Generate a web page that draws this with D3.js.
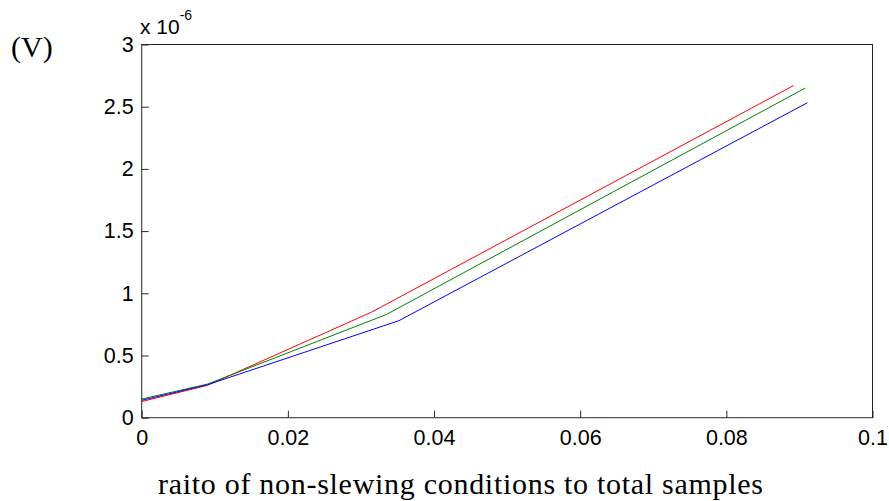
<!DOCTYPE html>
<html>
<head>
<meta charset="utf-8">
<script src="https://cdn.jsdelivr.net/npm/d3@7"></script>
<style>
  body { margin: 0; background: #fff; }
  svg { display: block; }
</style>
</head>
<body>
<svg id="chart" width="889" height="501"></svg>
<script>
// ---- data ----
const xTicks = [0, 0.02, 0.04, 0.06, 0.08, 0.1];
const xTickLabels = ["0", "0.02", "0.04", "0.06", "0.08", "0.1"];
const yTicks = [0, 0.5, 1, 1.5, 2, 2.5, 3];
const yTickLabels = ["0", "0.5", "1", "1.5", "2", "2.5", "3"];
const redX = [0, 0.009, 0.0315, 0.0892];
const redY = [0.13, 0.26, 0.85, 2.67];
const greenX = [0, 0.009, 0.0335, 0.0908];
const greenY = [0.15, 0.27, 0.83, 2.65];
const blueX = [0, 0.009, 0.0352, 0.0911];
const blueY = [0.14, 0.265, 0.78, 2.532];
const seriesNames = ["red", "green", "blue"];
const xLabel = "raito of non-slewing conditions to total samples";
const yUnit = "(V)";
const yExponent = "-6";

// ---- layout ----
const svg = d3.select("#chart");
const mLeft = 141.7, mRight = 872.5, mTop = 44.5, mBottom = 417.7;
const x = d3.scaleLinear().domain([0, 0.1]).range([mLeft, mRight]);
const y = d3.scaleLinear().domain([0, 3]).range([mBottom, mTop]);

const series = [
  { name: seriesNames[0], xs: redX, ys: redY, color: "#ff0000" },
  { name: seriesNames[1], xs: greenX, ys: greenY, color: "#008000" },
  { name: seriesNames[2], xs: blueX, ys: blueY, color: "#0000ff" }
];

// frame
svg.append("rect")
  .attr("x", mLeft).attr("y", mTop)
  .attr("width", mRight - mLeft).attr("height", mBottom - mTop)
  .attr("fill", "#fff").attr("stroke", "#262626").attr("stroke-width", 1);

const tickFont = "'Liberation Sans', Arial, sans-serif";

const xAxis = d3.axisBottom(x).tickValues(xTicks)
  .tickFormat((d, i) => xTickLabels[i]).tickSizeInner(-7).tickSizeOuter(0).tickPadding(12);
const gx = svg.append("g").attr("transform", `translate(0,${mBottom})`).call(xAxis);
gx.select(".domain").remove();
gx.selectAll("line").attr("stroke", "#262626");
gx.selectAll("text").attr("font-family", tickFont).attr("font-size", 21.5).attr("fill", "#000");

const yAxis = d3.axisLeft(y).tickValues(yTicks)
  .tickFormat((d, i) => yTickLabels[i]).tickSizeInner(-7).tickSizeOuter(0).tickPadding(8);
const gy = svg.append("g").attr("transform", `translate(${mLeft},0)`).call(yAxis);
gy.select(".domain").remove();
gy.selectAll("line").attr("stroke", "#262626");
gy.selectAll("text").attr("font-family", tickFont).attr("font-size", 21.5).attr("fill", "#000");

// lines
const line = d3.line().x(d => x(d[0])).y(d => y(d[1]));
series.forEach(s => {
  const pts = s.xs.map((v, i) => [v, s.ys[i]]);
  svg.append("path").datum(pts)
    .attr("d", line)
    .attr("fill", "none")
    .attr("stroke", s.color)
    .attr("stroke-width", 1);
});

// exponent label
const ex = svg.append("text")
  .attr("x", 140).attr("y", 34)
  .attr("font-family", tickFont).attr("font-size", 21).attr("fill", "#000");
ex.append("tspan").text("x 10");
ex.append("tspan").attr("dy", -14).attr("font-size", 14).text(yExponent);

// unit label
svg.append("text")
  .attr("x", 11).attr("y", 57)
  .attr("font-family", "'Liberation Serif', 'DejaVu Serif', serif")
  .attr("font-size", 30).attr("fill", "#000")
  .text(yUnit);

// x label
svg.append("text")
  .attr("x", 158).attr("y", 494)
  .attr("font-family", "'Liberation Serif', 'DejaVu Serif', serif")
  .attr("font-size", 30).attr("fill", "#000")
  .attr("textLength", 605).attr("lengthAdjust", "spacing")
  .text(xLabel);
</script>
</body>
</html>
